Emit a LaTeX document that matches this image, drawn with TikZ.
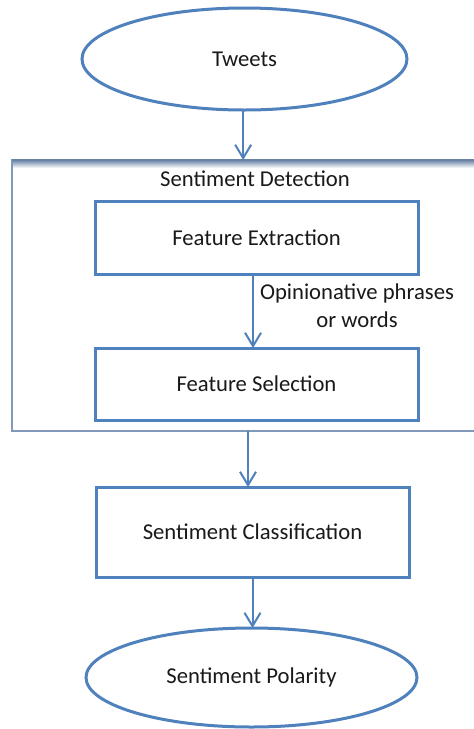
\documentclass[tikz,border=0pt]{standalone}
\usepackage{fontspec}
\setmainfont{Carlito}
\usetikzlibrary{shapes.geometric,arrows.meta}
\definecolor{flowblue}{RGB}{79,129,189}
\definecolor{groupline}{RGB}{128,152,186}
\definecolor{groupshade}{RGB}{105,130,165}
\definecolor{txt}{RGB}{25,25,25}
\tikzset{
  every node/.style={font=\fontsize{17}{21}\selectfont, text=txt},
  stagebox/.style={draw=flowblue, line width=2.25pt, rectangle, inner sep=0pt, outer sep=0pt},
  terminal/.style={draw=flowblue, line width=2.25pt, ellipse, inner sep=0pt, outer sep=0pt},
  flowarrow/.style={draw=flowblue, line width=1.5pt, -{Straight Barb[length=10pt,width=12pt,line width=1.5pt]}},
}
\begin{document}
\begin{tikzpicture}[x=0.75pt,y=-0.75pt]
\useasboundingbox (0,0) rectangle (474,729);
\clip (0,0) rectangle (474,729);
\fill[white] (0,0) rectangle (474,729);

% group frame for the detection stage, running off the right side
\shade[top color=groupshade, bottom color=white] (12,160) rectangle (480,168);
\node[draw=groupline, line width=1pt, rectangle, inner sep=0pt, outer sep=0pt,
      minimum width=351pt, minimum height=203.25pt] (det) at (246,295.5) {};
\draw[groupshade, line width=1.5pt] (12,160) -- (480,160);
\node (dettitle) at (255,179) {Sentiment Detection};

% stages
\node[terminal, minimum width=243.75pt, minimum height=76.5pt] (tweets) at (244.5,59) {Tweets};
\node[stagebox, minimum width=242.25pt, minimum height=54.75pt] (fe) at (256.5,237.5) {Feature Extraction};
\node[stagebox, minimum width=242.25pt, minimum height=54pt] (fs) at (256.5,384) {Feature Selection};
\node[stagebox, minimum width=234.75pt, minimum height=67.5pt] (sc) at (252.5,532) {Sentiment Classification};
\node[terminal, minimum width=248.25pt, minimum height=74.25pt] (sp) at (251.5,677.5) {Sentiment Polarity};

\node[align=center] (oplabel) at (357,306) {Opinionative phrases\\or words};

% connectors
\draw[flowarrow] ([xshift=-1pt]tweets.south) -- ([xshift=-1pt]tweets.south |- det.north);
\draw[flowarrow] ([xshift=-2.6pt]fe.south) -- ([xshift=-2.6pt]fs.north);
\draw[flowarrow] ([xshift=1.5pt]det.south) -- ([xshift=1.5pt]det.south |- sc.north);
\draw[flowarrow] (sc.south) -- (sc.south |- sp.north);
\end{tikzpicture}
\end{document}
